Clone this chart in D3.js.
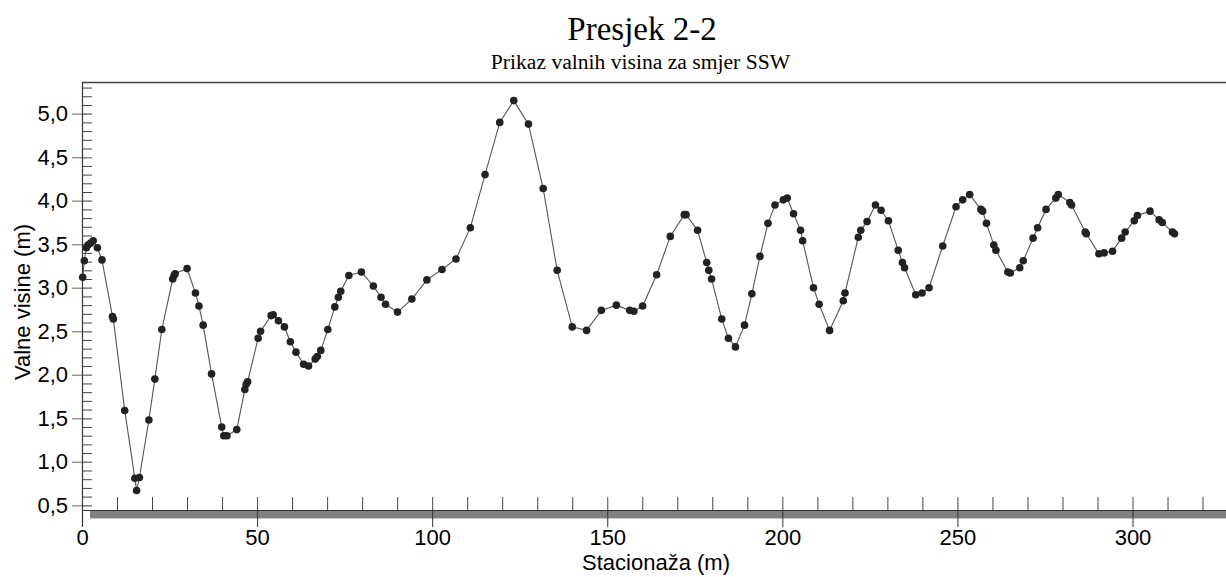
<!DOCTYPE html>
<html>
<head>
<meta charset="utf-8">
<script src="https://cdn.jsdelivr.net/npm/d3@7"></script>
<style>
  html, body { margin: 0; padding: 0; background: #fff; }
  svg { display: block; }
</style>
</head>
<body>
<svg id="chart" width="1226" height="577"></svg>
<script>
// ---- data ----
const stations = [0.2,0.66,1.24,1.7,2.4,3.2,4.4,5.7,8.7,8.95,12.2,15.1,15.6,16.4,19.1,20.8,22.8,25.9,26.3,26.6,30.0,32.4,33.4,34.6,37.0,39.9,40.5,41.4,44.2,46.5,46.9,47.3,50.3,51.0,54.0,54.6,56.1,57.8,59.5,61.1,63.3,64.7,66.6,67.2,68.2,70.2,72.2,73.2,73.9,76.2,79.8,83.2,85.4,86.7,90.1,94.2,98.5,102.8,106.8,110.9,115.1,119.3,123.3,127.5,131.7,135.7,140.0,144.1,148.3,152.6,156.4,157.6,160.1,164.1,168.0,172.0,172.5,175.8,178.4,179.0,179.8,182.7,184.6,186.6,189.2,191.3,193.6,195.9,197.9,200.3,201.4,203.2,205.2,205.8,208.9,210.5,213.5,217.4,217.9,221.7,222.4,224.2,226.6,228.2,230.3,233.1,234.3,234.9,238.1,239.9,241.9,245.8,249.6,251.5,253.5,256.7,257.2,258.3,260.4,261.0,264.4,265.1,267.8,268.8,271.6,272.9,275.3,278.1,278.8,282.1,282.6,286.5,286.8,290.4,291.9,294.3,296.9,297.9,300.5,301.4,305.0,307.6,308.5,311.4,312.0];
const waveHeights = [3.12,3.31,3.46,3.49,3.51,3.54,3.46,3.32,2.67,2.64,1.59,0.81,0.67,0.82,1.48,1.95,2.52,3.10,3.14,3.16,3.22,2.94,2.79,2.57,2.01,1.40,1.30,1.30,1.37,1.83,1.89,1.92,2.42,2.50,2.68,2.69,2.62,2.55,2.38,2.26,2.12,2.10,2.18,2.21,2.28,2.52,2.78,2.89,2.96,3.14,3.18,3.02,2.89,2.81,2.72,2.87,3.09,3.21,3.33,3.69,4.30,4.90,5.15,4.88,4.14,3.20,2.55,2.51,2.74,2.80,2.74,2.73,2.79,3.15,3.59,3.84,3.84,3.66,3.29,3.20,3.10,2.64,2.42,2.32,2.57,2.93,3.36,3.74,3.95,4.01,4.03,3.85,3.66,3.54,3.00,2.81,2.51,2.85,2.94,3.58,3.66,3.76,3.95,3.89,3.77,3.43,3.29,3.23,2.92,2.94,3.00,3.48,3.93,4.01,4.07,3.90,3.88,3.74,3.49,3.43,3.18,3.17,3.23,3.31,3.57,3.69,3.90,4.03,4.07,3.98,3.95,3.64,3.62,3.39,3.40,3.42,3.57,3.64,3.77,3.83,3.88,3.78,3.75,3.64,3.62];
const yMajorTicks = [0.5,1.0,1.5,2.0,2.5,3.0,3.5,4.0,4.5,5.0];
const xMajorTicks = [0,50,100,150,200,250,300];
const groundStart = 2.3;
const titleText = "Presjek 2-2";
const subtitleText = "Prikaz valnih visina za smjer SSW";
const xLabel = "Stacionaža (m)";
const yLabel = "Valne visine (m)";

// ---- layout ----
const svg = d3.select("#chart");
const L = 82, R = 1226, T = 82, B = 510;
const x = d3.scaleLinear().domain([0, 326.7]).range([L, R]);
const y = d3.scaleLinear().domain([0.446, 5.364]).range([B, T]);
const fmt = d3.formatLocale({decimal: ",", thousands: ".", grouping: [3], currency: ["", ""]}).format(".1f");

const yMinor = d3.range(5, 54).map(v => v / 10);
const xMinor = d3.range(0, 330, 10);

// titles
svg.append("text").attr("x", 642).attr("y", 40).attr("text-anchor", "middle")
  .attr("font-family", "Liberation Serif, Times New Roman, serif").attr("font-size", 33).attr("fill", "#000").text(titleText);
svg.append("text").attr("x", 640.5).attr("y", 69).attr("text-anchor", "middle")
  .attr("font-family", "Liberation Serif, Times New Roman, serif").attr("font-size", 21.6).attr("fill", "#000").text(subtitleText);

// ground bar
svg.append("rect").attr("x", x(groundStart)).attr("y", B + 1).attr("width", R - x(groundStart)).attr("height", 7).attr("fill", "#808080");
svg.append("line").attr("x1", x(groundStart)).attr("x2", R).attr("y1", B + 8.5).attr("y2", B + 8.5).attr("stroke", "#c8c8c8").attr("stroke-width", 1);

// top frame line
svg.append("line").attr("x1", L).attr("x2", R).attr("y1", T + 0.5).attr("y2", T + 0.5).attr("stroke", "#444").attr("stroke-width", 1.5);

// Y axis: minor ticks inward
const gyMinor = svg.append("g").attr("transform", `translate(${L},0)`)
  .call(d3.axisRight(y).tickValues(yMinor).tickSize(10).tickFormat(""));
gyMinor.select(".domain").remove();
gyMinor.selectAll(".tick line").attr("stroke", "#444");

// Y axis: majors with labels
const gy = svg.append("g").attr("transform", `translate(${L},0)`)
  .call(d3.axisLeft(y).tickValues(yMajorTicks).tickSize(10).tickPadding(4).tickFormat(fmt));
gy.select(".domain").remove();
gy.selectAll(".tick line").attr("x2", -10).attr("x1", 10).attr("stroke", "#888").attr("stroke-width", 1.3);
gy.selectAll(".tick text").attr("font-family", "Liberation Sans, Arial, sans-serif").attr("font-size", 22).attr("fill", "#000");

// X axis: minor ticks upward
const gxMinor = svg.append("g").attr("transform", `translate(0,${B})`)
  .call(d3.axisTop(x).tickValues(xMinor).tickSize(13).tickFormat(""));
gxMinor.select(".domain").remove();
gxMinor.selectAll(".tick line").attr("stroke", "#444");

// X axis: majors with labels
const gx = svg.append("g").attr("transform", `translate(0,${B})`)
  .call(d3.axisBottom(x).tickValues(xMajorTicks).tickSize(17).tickFormat(d3.format("d")));
gx.select(".domain").remove();
gx.selectAll(".tick line").attr("stroke", "#333");
gx.selectAll(".tick text").attr("y", 35).attr("dy", 0)
  .attr("font-family", "Liberation Sans, Arial, sans-serif").attr("font-size", 22).attr("fill", "#000");

// axis lines
svg.append("line").attr("x1", L).attr("x2", R).attr("y1", B + 0.5).attr("y2", B + 0.5).attr("stroke", "#333").attr("stroke-width", 1.2);
svg.append("line").attr("x1", L + 0.5).attr("x2", L + 0.5).attr("y1", T).attr("y2", 526).attr("stroke", "#333").attr("stroke-width", 1.2);

// axis labels
svg.append("text").attr("x", 656).attr("y", 570).attr("text-anchor", "middle")
  .attr("font-family", "Liberation Sans, Arial, sans-serif").attr("font-size", 22).attr("fill", "#000").text(xLabel);
svg.append("text").attr("transform", "translate(30,302) rotate(-90)").attr("text-anchor", "middle")
  .attr("font-family", "Liberation Sans, Arial, sans-serif").attr("font-size", 22).attr("fill", "#000").text(yLabel);

// data
const pts = stations.map((s, i) => [s, waveHeights[i]]);
svg.append("path").datum(pts)
  .attr("d", d3.line().x(d => x(d[0])).y(d => y(d[1])))
  .attr("fill", "none").attr("stroke", "#555").attr("stroke-width", 1.1);
svg.append("g").selectAll("circle").data(pts).join("circle")
  .attr("cx", d => x(d[0])).attr("cy", d => y(d[1])).attr("r", 3.8).attr("fill", "#222");
</script>
</body>
</html>
